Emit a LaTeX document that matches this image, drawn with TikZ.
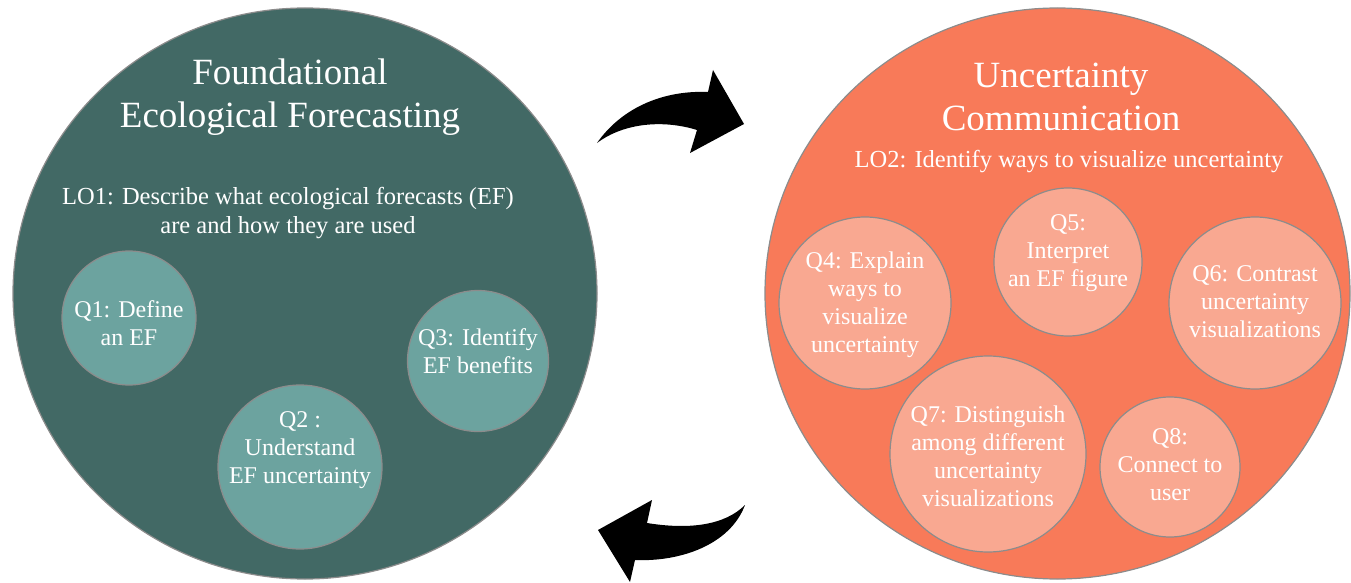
\documentclass[tikz,border=0pt]{standalone}
\usepackage{fontspec}
\setmainfont{Liberation Serif}
\usetikzlibrary{shapes.geometric}
\definecolor{tealdark}{RGB}{66,105,101}
\definecolor{teallight}{RGB}{108,163,159}
\definecolor{coraldark}{RGB}{248,122,89}
\definecolor{corallight}{RGB}{249,168,145}
\definecolor{rimgrey}{RGB}{140,140,140}
\begin{document}
\begin{tikzpicture}[x=1pt,y=-1pt,
	bigblob/.style={ellipse,draw=rimgrey,line width=1.2pt,inner sep=0pt},
	qcirc/.style={circle,draw=rimgrey,line width=1.2pt,inner sep=0pt},
	title/.style={text=white,align=center,font=\fontsize{37pt}{43pt}\selectfont},
	lotext/.style={text=white,align=center,font=\fontsize{24.5pt}{28.5pt}\selectfont},
	qtext/.style={text=white,align=center,font=\fontsize{24pt}{28pt}\selectfont}]
	\useasboundingbox (0,0) rectangle (1351,583);
	%big circles
	\node[bigblob,fill=tealdark,minimum width=584pt,minimum height=571pt] (fef) at (305,293.5) {};
	\node[bigblob,fill=coraldark,minimum width=585pt,minimum height=571pt] (ucom) at (1057.5,293.5) {};
	%left side
	\node[title] (feft) at (290,97) {Foundational\\Ecological Forecasting};
	\node[lotext] (lo1) at (288,213) {LO1: Describe what ecological forecasts (EF)\\are and how they are used};
	\node[qcirc,fill=teallight,minimum size=134pt] (q1) at (129,318) {};
	\node[qtext] (q1t) at (129,323) {Q1: Define\\an EF};
	\node[qcirc,fill=teallight,minimum size=164pt] (q2) at (300,467) {};
	\node[qtext] (q2t) at (300,450) {Q2 :\\Understand\\EF uncertainty};
	\node[qcirc,fill=teallight,minimum size=141pt] (q3) at (478,361) {};
	\node[qtext] (q3t) at (478,351) {Q3: Identify\\EF benefits};
	%right side
	\node[title] (ucomt) at (1061,97) {Uncertainty\\Communication};
	\node[lotext] (lo2) at (1069,162) {LO2: Identify ways to visualize uncertainty};
	\node[qcirc,fill=corallight,minimum size=172pt] (q4) at (865,303) {};
	\node[qtext] (q4t) at (865,305) {Q4: Explain\\ways to\\visualize\\uncertainty};
	\node[qcirc,fill=corallight,minimum size=148pt] (q5) at (1068,262) {};
	\node[qtext] (q5t) at (1068,253) {Q5:\\Interpret\\an EF figure};
	\node[qcirc,fill=corallight,minimum size=172pt] (q6) at (1255,303) {};
	\node[qtext] (q6t) at (1255,302) {Q6: Contrast\\uncertainty\\visualizations};
	\node[qcirc,fill=corallight,minimum size=196pt] (q7) at (988,454) {};
	\node[qtext] (q7t) at (988,456) {Q7: Distinguish\\among different\\uncertainty\\visualizations};
	\node[qcirc,fill=corallight,minimum size=140pt] (q8) at (1170,467) {};
	\node[qtext] (q8t) at (1170,465) {Q8:\\Connect to\\user};
	%curved arrows
	\fill (597,143) .. controls (620,110) and (660,90) .. (708,92) -- (713,70) -- (744,124) -- (690,153) -- (697,130) .. controls (665,120) and (625,122) .. (597,143) -- cycle;
	\fill (745,505) .. controls (725,525) and (690,530) .. (647,523) -- (652,500) -- (598,530) -- (630,582) -- (635,560) .. controls (680,562) and (730,545) .. (745,505) -- cycle;
\end{tikzpicture}
\end{document}
